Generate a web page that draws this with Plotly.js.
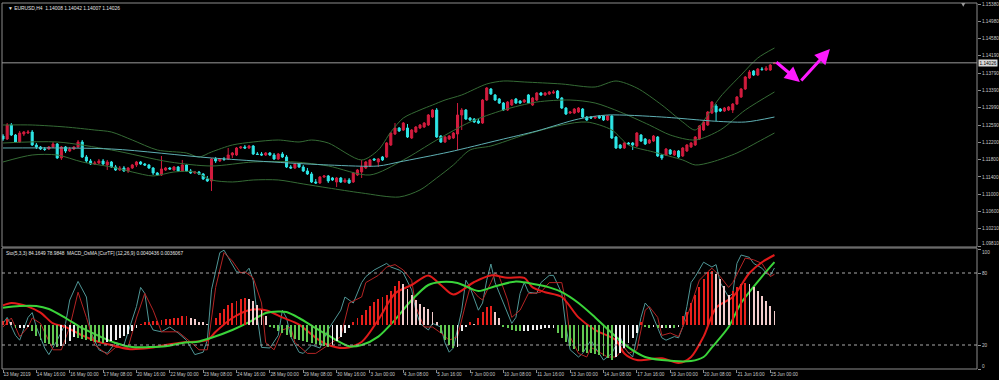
<!DOCTYPE html>
<html><head><meta charset="utf-8">
<script src="https://cdn.plot.ly/plotly-3.0.1.min.js"></script>
<style>html,body{margin:0;padding:0;background:#000;}#chart{width:999px;height:380px;}</style>
</head><body><div id="chart"></div>
<script>
// ---------- price data (EURUSD H4) ----------
const openP = [1.12342,1.12273,1.12595,1.12365,1.12204,1.12388,1.12411,1.12434,1.12135,1.12089,
1.12043,1.12043,1.12089,1.12158,1.11836,1.12089,1.11997,1.12043,1.12089,1.12204,
1.11859,1.11767,1.11698,1.11721,1.11767,1.11675,1.11744,1.11629,1.11560,1.11606,
1.11537,1.11606,1.11675,1.11744,1.11698,1.11675,1.11606,1.11491,1.11445,1.11560,
1.11606,1.11560,1.11629,1.11537,1.11675,1.11537,1.11491,1.11514,1.11468,1.11353,
1.11307,1.11813,1.11767,1.11813,1.11813,1.11905,1.11905,1.12066,1.12089,1.12066,
1.12112,1.11928,1.11928,1.11905,1.11951,1.11905,1.11813,1.11928,1.11859,1.11629,
1.11606,1.11698,1.11629,1.11537,1.11468,1.11284,1.11261,1.11399,1.11422,1.11376,
1.11284,1.11376,1.11284,1.11330,1.11284,1.11445,1.11514,1.11606,1.11652,1.11813,
1.11744,1.11859,1.11859,1.12135,1.12388,1.12526,1.12480,1.12526,1.12296,1.12434,
1.12526,1.12549,1.12595,1.12779,1.12940,1.12342,1.12204,1.12273,1.12296,1.12388,
1.12825,1.12940,1.12756,1.12733,1.12687,1.12641,1.13170,1.13424,1.13286,1.13194,
1.13101,1.12940,1.13055,1.13194,1.13147,1.13124,1.13286,1.13055,1.13170,1.13332,
1.13286,1.13309,1.13332,1.13378,1.13217,1.12986,1.12871,1.12871,1.12894,1.12963,
1.12779,1.12779,1.12756,1.12802,1.12802,1.12710,1.12802,1.12319,1.12135,1.12066,
1.12181,1.12181,1.12112,1.12365,1.12273,1.12181,1.12227,1.12319,1.11905,1.11905,
1.12020,1.11905,1.11997,1.11882,1.11997,1.12089,1.12135,1.12273,1.12480,1.12595,
1.12871,1.13032,1.12963,1.12917,1.12940,1.12940,1.13078,1.13240,1.13424,1.13677,
1.13838,1.13746,1.13884,1.13861,1.13861,1.14008];
const highP = [1.12388,1.12641,1.12641,1.12388,1.12457,1.12457,1.12480,1.12480,1.12181,1.12112,
1.12089,1.12112,1.12204,1.12181,1.12112,1.12112,1.12089,1.12112,1.12250,1.12250,
1.11905,1.11813,1.11767,1.11813,1.11813,1.11790,1.11767,1.11675,1.11652,1.11652,
1.11629,1.11698,1.11767,1.11767,1.11721,1.11698,1.11629,1.11514,1.11882,1.11629,
1.11629,1.11652,1.11652,1.11790,1.11698,1.11583,1.11537,1.11537,1.11491,1.11422,
1.11836,1.11859,1.11836,1.11859,1.12066,1.11974,1.12089,1.12112,1.12135,1.12135,
1.12135,1.11974,1.11974,1.11974,1.11974,1.11951,1.11951,1.11974,1.11905,1.11675,
1.11721,1.11721,1.11675,1.11606,1.11514,1.11353,1.11422,1.11445,1.11445,1.11399,
1.11399,1.11399,1.11376,1.11376,1.11514,1.11583,1.11790,1.11767,1.11813,1.11836,
1.11836,1.11882,1.12204,1.12434,1.12641,1.12549,1.12664,1.12618,1.12503,1.12572,
1.12618,1.12664,1.12848,1.12963,1.12986,1.12365,1.12342,1.12365,1.12434,1.13101,
1.12986,1.12963,1.12779,1.12756,1.12733,1.13194,1.13470,1.13447,1.13309,1.13217,
1.13124,1.13147,1.13194,1.13217,1.13170,1.13194,1.13309,1.13240,1.13355,1.13355,
1.13355,1.13378,1.13401,1.13401,1.13240,1.13009,1.12917,1.12986,1.13009,1.12986,
1.12802,1.12802,1.12802,1.12825,1.12825,1.12825,1.12825,1.12342,1.12158,1.12204,
1.12204,1.12204,1.12434,1.12388,1.12296,1.12273,1.12365,1.12342,1.11928,1.12066,
1.12043,1.12020,1.12020,1.12089,1.12158,1.12204,1.12342,1.12595,1.12687,1.12917,
1.13147,1.13078,1.12986,1.13009,1.13032,1.13101,1.13263,1.13447,1.13723,1.13861,
1.13861,1.13907,1.13930,1.13953,1.13999,1.14042];
const lowP = [1.12227,1.12250,1.12342,1.12181,1.12181,1.12342,1.12388,1.12112,1.12043,1.12020,
1.11997,1.12020,1.12066,1.11813,1.11790,1.11951,1.11974,1.12020,1.12066,1.11836,
1.11721,1.11675,1.11675,1.11698,1.11675,1.11560,1.11606,1.11537,1.11537,1.11514,
1.11491,1.11583,1.11629,1.11675,1.11652,1.11583,1.11445,1.11422,1.11422,1.11537,
1.11560,1.11537,1.11514,1.11514,1.11514,1.11468,1.11468,1.11445,1.11330,1.11284,
1.11077,1.11721,1.11744,1.11767,1.11790,1.11836,1.11882,1.12043,1.12043,1.12043,
1.11905,1.11905,1.11882,1.11882,1.11882,1.11790,1.11790,1.11836,1.11606,1.11583,
1.11583,1.11606,1.11514,1.11445,1.11261,1.11238,1.11238,1.11376,1.11261,1.11307,
1.11169,1.11261,1.11261,1.11238,1.11261,1.11422,1.11376,1.11583,1.11629,1.11767,
1.11629,1.11767,1.11836,1.12112,1.12365,1.12434,1.12457,1.12296,1.12273,1.12411,
1.12503,1.12526,1.12572,1.12756,1.12296,1.12181,1.12181,1.12250,1.12273,1.12020,
1.12480,1.12710,1.12687,1.12641,1.12618,1.12618,1.13147,1.13286,1.13147,1.13078,
1.12917,1.12917,1.13032,1.13078,1.13078,1.13101,1.13078,1.13032,1.13147,1.13263,
1.13263,1.13286,1.13309,1.13194,1.12963,1.12825,1.12848,1.12848,1.12871,1.12756,
1.12687,1.12733,1.12733,1.12733,1.12687,1.12687,1.12273,1.12043,1.12043,1.12043,
1.12135,1.12020,1.12089,1.12204,1.12135,1.12158,1.12204,1.11859,1.11790,1.11882,
1.11905,1.11882,1.11836,1.11859,1.11974,1.12066,1.12112,1.12250,1.12457,1.12572,
1.12848,1.12687,1.12894,1.12894,1.12917,1.12871,1.13055,1.13217,1.13401,1.13654,
1.13723,1.13723,1.13838,1.13838,1.13838,1.14007];
const closeP = [1.12273,1.12595,1.12365,1.12204,1.12411,1.12434,1.12434,1.12135,1.12089,1.12043,
1.12032,1.12089,1.12158,1.11836,1.12089,1.11997,1.12043,1.12089,1.12204,1.11859,
1.11767,1.11698,1.11721,1.11767,1.11698,1.11744,1.11629,1.11560,1.11606,1.11537,
1.11606,1.11675,1.11744,1.11698,1.11675,1.11606,1.11491,1.11445,1.11583,1.11606,
1.11583,1.11629,1.11537,1.11675,1.11537,1.11491,1.11514,1.11468,1.11353,1.11307,
1.11813,1.11767,1.11813,1.11802,1.11905,1.11951,1.12066,1.12089,1.12066,1.12112,
1.11928,1.11917,1.11905,1.11951,1.11905,1.11813,1.11928,1.11859,1.11629,1.11606,
1.11698,1.11629,1.11537,1.11468,1.11284,1.11261,1.11399,1.11422,1.11307,1.11330,
1.11376,1.11284,1.11330,1.11261,1.11491,1.11560,1.11629,1.11744,1.11790,1.11790,
1.11813,1.11790,1.12181,1.12411,1.12526,1.12457,1.12641,1.12319,1.12480,1.12549,
1.12595,1.12641,1.12825,1.12940,1.12319,1.12204,1.12319,1.12342,1.12411,1.12825,
1.12940,1.12733,1.12710,1.12664,1.12641,1.13170,1.13447,1.13309,1.13170,1.13101,
1.12940,1.13124,1.13170,1.13101,1.13101,1.13170,1.13101,1.13217,1.13332,1.13286,
1.13332,1.13355,1.13355,1.13217,1.12986,1.12848,1.12894,1.12963,1.12986,1.12779,
1.12710,1.12756,1.12779,1.12756,1.12710,1.12802,1.12296,1.12066,1.12066,1.12181,
1.12158,1.12135,1.12411,1.12227,1.12158,1.12250,1.12342,1.11882,1.11836,1.12043,
1.11928,1.11997,1.11859,1.12066,1.12135,1.12181,1.12319,1.12572,1.12664,1.12894,
1.13124,1.12894,1.12917,1.12986,1.13009,1.13078,1.13240,1.13424,1.13700,1.13815,
1.13746,1.13884,1.13873,1.13907,1.13976,1.14026];

// Bollinger bands and moving average (bar index, price)
const bbUpBar = [0,7,15,22,26,31,37,44,47,50,55,60,66,71,74,78,86,90,93,96,100,103,106,110,116,120,125,134,142,147,152,158,163,166,169,172,177,181,185];
const bbUpVal = [1.12595,1.12595,1.12549,1.12480,1.12434,1.12250,1.12020,1.11951,1.11859,1.11974,1.12135,1.12204,1.12250,1.12204,1.12250,1.12181,1.11790,1.12020,1.12434,1.12756,1.12940,1.13055,1.13170,1.13286,1.13539,1.13608,1.13585,1.13539,1.13470,1.13608,1.13447,1.13055,1.12664,1.12480,1.12825,1.13240,1.13746,1.14137,1.14367];
const bbMidBar = [0,13,26,40,50,60,70,78,88,96,104,112,120,128,136,142,148,155,160,166,172,178,185];
const bbMidVal = [1.12181,1.12204,1.12020,1.11744,1.11652,1.11744,1.11744,1.11652,1.11445,1.11790,1.12250,1.12664,1.12940,1.13124,1.13170,1.13101,1.12894,1.12595,1.12365,1.12250,1.12480,1.12940,1.13355];
const bbLoBar = [0,7,13,19,26,31,36,41,46,50,55,60,66,72,78,86,95,100,104,108,112,117,125,134,140,146,150,156,163,166,170,176,181,185];
const bbLoVal = [1.11744,1.11905,1.11905,1.11744,1.11629,1.11514,1.11422,1.11514,1.11514,1.11330,1.11284,1.11330,1.11330,1.11238,1.11146,1.11031,1.10938,1.11100,1.11376,1.11675,1.12020,1.12112,1.12365,1.12595,1.12664,1.12480,1.12135,1.11974,1.11790,1.11675,1.11744,1.11951,1.12204,1.12411];
const maBar = [0,26,50,78,90,95,107,119,128,138,145,158,167,170,178,185];
const maVal = [1.12066,1.12043,1.11836,1.11675,1.11652,1.11744,1.11974,1.12250,1.12457,1.12733,1.12825,1.12779,1.12710,1.12687,1.12664,1.12779];

// hand-drawn arrow (bar index, price)
const arrowBar = [185.1, 191.1, 198.3];
const arrowVal = [1.14068, 1.13585, 1.14344];

// ---------- lower pane ----------
const stoMainBar = [0,1,3,4,6,7,8,10,11,13,15,16,18,20,21,23,25,27,29,32,33,34,35,36,38,40,42,44,46,48,49,50,52,53,54,56,58,59,60,61,62,64,66,67,68,69,71,72,74,76,78,
81,82,84,86,87,89,92,93,95,96,98,99,100,102,103,105,106,107,108,110,111,112,114,115,116,117,118,120,122,123,124,125,126,128,129,131,132,134,135,136,138,139,141,142,144,146,148,149,151,153,154,155,156,158,
159,161,162,163,164,165,166,168,170,171,172,174,175,176,177,179,180,182,183,184,185];
const stoMainVal = [38,43,28,24,43,47,35,17.5,12,24,38,57.5,73,60,31,16,13,22,20,52,68,63,39,32.5,31,35,30,24,12,14,24,66,97,99,93,81,80,84,74,43,18,17.5,28,49,42.5,27,14,13,20,17.5,33,
49,60,55,72,77,82.5,88,85,82.5,80,66,49,38,32.5,38,35,21.7,14,17.5,49,74,68,49,55,74,87.5,72,55,38,43,63,72,64,63,72,78,78,63,35,16,10,13,24,18,7.5,13,27,17.5,10,43,55,51,43,26,
24,27,26,35,52,72,77,89,85,87,72,60,63,88,95,93,88,84,80,78,84.16];
const stoSigBar = [0,2,4,6,7,9,12,14,16,18,20,22,25,27,30,32,34,36,38,40,42,45,47,49,51,53,55,57,58,60,62,63,65,67,69,70,73,75,78,
81,83,86,87,90,92,94,96,98,99,101,103,105,107,109,111,112,114,115,117,118,119,121,122,124,126,127,129,131,134,135,136,138,140,141,143,145,147,149,150,152,154,155,157,
158,160,162,164,166,167,169,170,172,174,175,177,178,180,182,183,184,185];
const stoSigVal = [35,42.5,27,35,42.5,38,16,16,35,64,43,20,12,18,18,42.5,63,49,31,31,31,22.5,16,16,68,97,90,80,81,76,55,22,16,32.5,35,22,13,13,20,
27,55,60,72,78,85,87,82.5,74,52,35,35,30,24,27,55,68,60,57.5,72,80,77,57.5,43,49,63,63,64,72,72,55,27,13,10,18,14,10,10,18,13,16,49,52,43,
28,30,27,43,63,74,81,84,77,68,72,85,92.5,91,88,82.5,77,78.98];
const macdRedBar = [0,2,6,9,12,15,19,23,26,30,35,39,44,49,51,55,59,63,67,71,75,78,82,86,90,94,98,102,105,108,113,117,121,125,127,130,134,138,142,147,149,152,158,162,165,168,171,175,179,182,185];
const macdRedVal = [53,55,52,47,38,35,28,22.5,20,16.7,17.5,20,22.5,24,31,42.5,49,49,43,37,26,20,17.5,22.5,41,63,70,78,70,62,72.5,78,76,76,68,64,60,43,32.5,24,13,7.5,9,5,10,27,51,60,80,89,95];
const macdGrnBar = [0,4,8,11,15,19,23,27,31,35,39,43,47,50,55,59,63,66,68,71,75,78,83,86,90,94,98,102,105,109,114,118,123,126,131,134,138,142,146,150,154,158,165,168,170,174,177,182,185];
const macdGrnVal = [51,52.5,52.5,50,42.5,34,27.5,21.7,18.3,18.3,19,21.7,23,26,32.5,39,46.7,48,47.5,42.5,34,28,19,20,27,41,57.5,70,72.5,71.7,65,69,73,71.7,68,64,55,43,30,18,10,7.5,6.7,10,18,35,55,77,89];
const osma = [0.00013,0.00017,0.00007,
-0.00013,-0.00012,-0.00010,-0.00008,
-0.00023,-0.00037,-0.00050,-0.00060,-0.00063,-0.00067,-0.00073,
-0.00070,-0.00063,-0.00053,-0.00040,
-0.00043,-0.00047,-0.00050,-0.00053,-0.00057,-0.00058,-0.00060,
-0.00057,-0.00053,-0.00050,-0.00043,-0.00037,-0.00030,-0.00023,-0.00013,
0.00003,0.00007,0.00010,0.00012,0.00013,0.00015,0.00017,0.00018,0.00020,0.00023,0.00027,0.00028,
0.00023,0.00017,0.00010,0.00007,0.00003,
-0.00003,
0.00020,0.00037,0.00053,0.00063,0.00070,0.00077,0.00083,0.00087,
0.00083,0.00077,0.00063,0.00047,0.00027,
-0.00007,-0.00013,-0.00020,-0.00027,-0.00033,-0.00040,-0.00047,-0.00050,-0.00053,-0.00057,-0.00060,-0.00063,-0.00067,-0.00070,-0.00073,
-0.00067,-0.00053,-0.00040,-0.00027,-0.00013,
0.00010,0.00020,0.00033,0.00047,0.00060,0.00073,0.00083,0.00090,0.00097,0.00110,0.00127,0.00143,
0.00133,0.00117,0.00097,0.00080,0.00067,0.00057,0.00050,0.00043,0.00010,
-0.00027,-0.00050,-0.00067,-0.00077,-0.00073,-0.00020,-0.00007,
0.00007,0.00003,0.00020,0.00040,0.00057,0.00060,0.00040,0.00020,
-0.00007,-0.00013,-0.00017,-0.00020,-0.00023,-0.00022,-0.00020,-0.00018,-0.00017,-0.00015,-0.00013,-0.00012,-0.00010,
-0.00027,-0.00043,-0.00057,-0.00070,-0.00080,-0.00087,-0.00090,-0.00093,-0.00095,-0.00097,-0.00100,-0.00103,-0.00110,-0.00117,
-0.00107,-0.00093,-0.00077,-0.00060,-0.00043,-0.00027,
0.00010,-0.00007,-0.00010,-0.00007,-0.00013,-0.00010,-0.00013,-0.00010,-0.00012,-0.00007,
0.00027,0.00043,0.00070,0.00097,0.00123,0.00150,0.00173,0.00177,0.00167,0.00150,0.00127,0.00097,0.00110,0.00123,0.00133,0.00137,0.00133,0.00123,0.00110,0.00093,0.00077,0.00060,0.00044];

// axis labels
const timeTickBars = [0,8,16,24,32,40,48,56,64,72,80,88,96,104,112,120,128,136,144,152,160,168,176,184];
const timeTickText = ["13 May 2019","14 May 16:00","16 May 00:00","17 May 08:00","20 May 16:00","22 May 00:00","23 May 08:00","24 May 16:00","28 May 00:00","29 May 08:00","30 May 16:00","3 Jun 00:00","4 Jun 08:00","5 Jun 16:00","7 Jun 00:00","10 Jun 08:00","11 Jun 16:00","13 Jun 00:00","14 Jun 08:00","17 Jun 16:00","19 Jun 00:00","20 Jun 08:00","21 Jun 16:00","25 Jun 00:00"];
const priceTickText = ["1.09810","1.10210","1.10600","1.11000","1.11400","1.11800","1.12200","1.12590","1.12990","1.13390","1.13790","1.14190","1.14580","1.14980","1.15380"];
const oscTickText = ["0","20","80","100"];
const oscLevels = [20, 80];
const symbolLabel = "EURUSD,H4";
const indicatorLabel = "Sto(5,3,3) 84.1649 78.9848  MACD_OsMA [CurTF] (12,26,9) 0.0040436 0.0036067";

// ---------- build ----------
const bars = closeP.map((_, i) => i);
const FONT = "Liberation Sans, Arial, sans-serif";
const TXT = "#c8c8c8";
const FS = 4.7;

const histColors = osma.map((v, i) => {
  const p = i > 0 ? osma[i - 1] : v;
  if (v >= 0) return v >= p ? "#e8201c" : "#f2cccc";
  return v < p ? "#62c852" : "#f0f0f0";
});

const bbLine = {color: "#356b35", width: 1, shape: "spline", smoothing: 0.8};
const traces = [
  {type: "scatter", mode: "lines", x: bbUpBar, y: bbUpVal, line: bbLine, xaxis: "x", yaxis: "y", hoverinfo: "skip"},
  {type: "scatter", mode: "lines", x: bbMidBar, y: bbMidVal, line: bbLine, xaxis: "x", yaxis: "y", hoverinfo: "skip"},
  {type: "scatter", mode: "lines", x: bbLoBar, y: bbLoVal, line: bbLine, xaxis: "x", yaxis: "y", hoverinfo: "skip"},
  {type: "scatter", mode: "lines", x: maBar, y: maVal, line: {color: "#5fb0b4", width: 1, shape: "spline", smoothing: 0.8}, xaxis: "x", yaxis: "y", hoverinfo: "skip"},
  {type: "candlestick", x: bars, open: openP, high: highP, low: lowP, close: closeP, xaxis: "x", yaxis: "y",
   increasing: {line: {color: "#d21c3e", width: 1}, fillcolor: "#d21c3e"},
   decreasing: {line: {color: "#2ee6e6", width: 1}, fillcolor: "#2ee6e6"},
   whiskerwidth: 0, hoverinfo: "skip"},
  {type: "bar", x: bars, y: osma, marker: {color: histColors, line: {width: 0}}, width: 0.45, xaxis: "x", yaxis: "y3", hoverinfo: "skip"},
  {type: "scatter", mode: "lines", x: stoMainBar, y: stoMainVal, line: {color: "#4f9696", width: 1}, xaxis: "x", yaxis: "y2", hoverinfo: "skip"},
  {type: "scatter", mode: "lines", x: stoSigBar, y: stoSigVal, line: {color: "#b42424", width: 1}, xaxis: "x", yaxis: "y2", hoverinfo: "skip"},
  {type: "scatter", mode: "lines", x: macdRedBar, y: macdRedVal, line: {color: "#e01a1a", width: 2, shape: "spline", smoothing: 0.8}, xaxis: "x", yaxis: "y2", hoverinfo: "skip"},
  {type: "scatter", mode: "lines", x: macdGrnBar, y: macdGrnVal, line: {color: "#3ad43a", width: 2, shape: "spline", smoothing: 0.8}, xaxis: "x", yaxis: "y2", hoverinfo: "skip"}
];

const lastClose = closeP[closeP.length - 1];
const n = closeP.length - 1;
const headerText = "▼ " + symbolLabel + "  " + openP[n].toFixed(5) + " " + highP[n].toFixed(5) + " " + lowP[n].toFixed(5) + " " + closeP[n].toFixed(5);

const TOP_DOM = [0.3333, 1];
const BOT_DOM = [0, 0.3306];

const shapes = [
  {type: "rect", xref: "paper", yref: "paper", x0: 0, x1: 1, y0: TOP_DOM[0], y1: TOP_DOM[1], line: {color: "#8c8c8c", width: 1}},
  {type: "rect", xref: "paper", yref: "paper", x0: 0, x1: 1, y0: BOT_DOM[0], y1: BOT_DOM[1], line: {color: "#8c8c8c", width: 1}},
  {type: "line", xref: "paper", yref: "y", x0: 0, x1: 1, y0: lastClose, y1: lastClose, line: {color: "#9a9a9a", width: 1}},
  {type: "path", xref: "paper", yref: "paper", path: "M 0.9838 1 L 0.9880 1 L 0.9859 0.990 Z", fillcolor: "#9a9a9a", line: {width: 0}}
].concat(oscLevels.map(v => ({type: "line", xref: "paper", yref: "y2", x0: 0, x1: 1, y0: v, y1: v, line: {color: "#a8a8a8", width: 1, dash: "dot"}})));

// edge labels that MT4 nudges inside the pane
const priceLow = Number(priceTickText[0]);
const annotations = [
  {xref: "paper", yref: "paper", x: 0.0045, y: 1, xanchor: "left", yanchor: "top", yshift: -1, showarrow: false, text: headerText, font: {family: FONT, size: 4.9, color: "#e6e6e6"}},
  {xref: "paper", yref: "paper", x: 0.002, y: BOT_DOM[1], xanchor: "left", yanchor: "top", yshift: -1, showarrow: false, text: indicatorLabel, font: {family: FONT, size: 4.8, color: "#e6e6e6"}},
  {xref: "paper", yref: "y", x: 1, y: lastClose, xanchor: "left", yanchor: "middle", xshift: 1, showarrow: false, text: lastClose.toFixed(5), bgcolor: "#d8d8d8", borderpad: 0.5, font: {family: FONT, size: FS, color: "#000"}},
  {xref: "paper", yref: "y", x: 1, y: priceLow, xanchor: "left", yanchor: "middle", xshift: 3, yshift: 3, showarrow: false, text: priceTickText[0], font: {family: FONT, size: FS, color: TXT}},
  {xref: "paper", yref: "y2", x: 1, y: 100, xanchor: "left", yanchor: "middle", xshift: 3, yshift: -3, showarrow: false, text: oscTickText[3], font: {family: FONT, size: FS, color: TXT}},
  {xref: "paper", yref: "y2", x: 1, y: 0, xanchor: "left", yanchor: "middle", xshift: 3, yshift: 3, showarrow: false, text: oscTickText[0], font: {family: FONT, size: FS, color: TXT}},
  {xref: "x", yref: "y", axref: "x", ayref: "y", x: arrowBar[1], y: arrowVal[1], ax: arrowBar[0], ay: arrowVal[0], text: "", showarrow: true, arrowhead: 2, arrowsize: 1, arrowwidth: 3, arrowcolor: "#ff1aff"},
  {xref: "x", yref: "y", axref: "x", ayref: "y", x: arrowBar[2], y: arrowVal[2], ax: arrowBar[1], ay: arrowVal[1], text: "", showarrow: true, arrowhead: 2, arrowsize: 1, arrowwidth: 3, arrowcolor: "#ff1aff"}
];

const layout = {
  width: 999, height: 380,
  margin: {l: 2, r: 22, t: 3, b: 11, pad: 0},
  paper_bgcolor: "#000", plot_bgcolor: "#000",
  showlegend: false, hovermode: false, bargap: 0,
  font: {family: FONT, size: FS, color: TXT},
  xaxis: {range: [-0.24, 233.57], anchor: "y2", rangeslider: {visible: false}, showgrid: false, zeroline: false, showline: false,
          tickmode: "array", tickvals: timeTickBars, ticktext: timeTickText, ticks: "outside", ticklen: 3, tickcolor: "#8c8c8c",
          tickangle: 0, automargin: false, ticklabelposition: "outside right", ticklabelstandoff: 0,
          tickfont: {family: FONT, size: FS, color: TXT}, fixedrange: true},
  yaxis: {domain: TOP_DOM, range: [1.09787, 1.15403], side: "right", showgrid: false, zeroline: false, showline: false, automargin: false,
          tickmode: "array", tickvals: priceTickText.map(Number), ticktext: priceTickText.map((t, i) => i === 0 ? "" : t),
          ticks: "outside", ticklen: 3, tickcolor: "#8c8c8c", tickfont: {family: FONT, size: FS, color: TXT}},
  yaxis2: {domain: BOT_DOM, range: [0, 100.83], side: "right", showgrid: false, zeroline: false, showline: false, automargin: false,
          tickmode: "array", tickvals: oscTickText.map(Number), ticktext: oscTickText.map((t, i) => (i === 0 || i === 3) ? "" : t),
          ticks: "outside", ticklen: 3, tickcolor: "#8c8c8c", tickfont: {family: FONT, size: FS, color: TXT}},
  yaxis3: {overlaying: "y2", range: [-0.00147, 0.00253], visible: false, showgrid: false, zeroline: false},
  shapes: shapes,
  annotations: annotations
};

Plotly.newPlot("chart", traces, layout, {staticPlot: true, displayModeBar: false});
</script></body></html>
